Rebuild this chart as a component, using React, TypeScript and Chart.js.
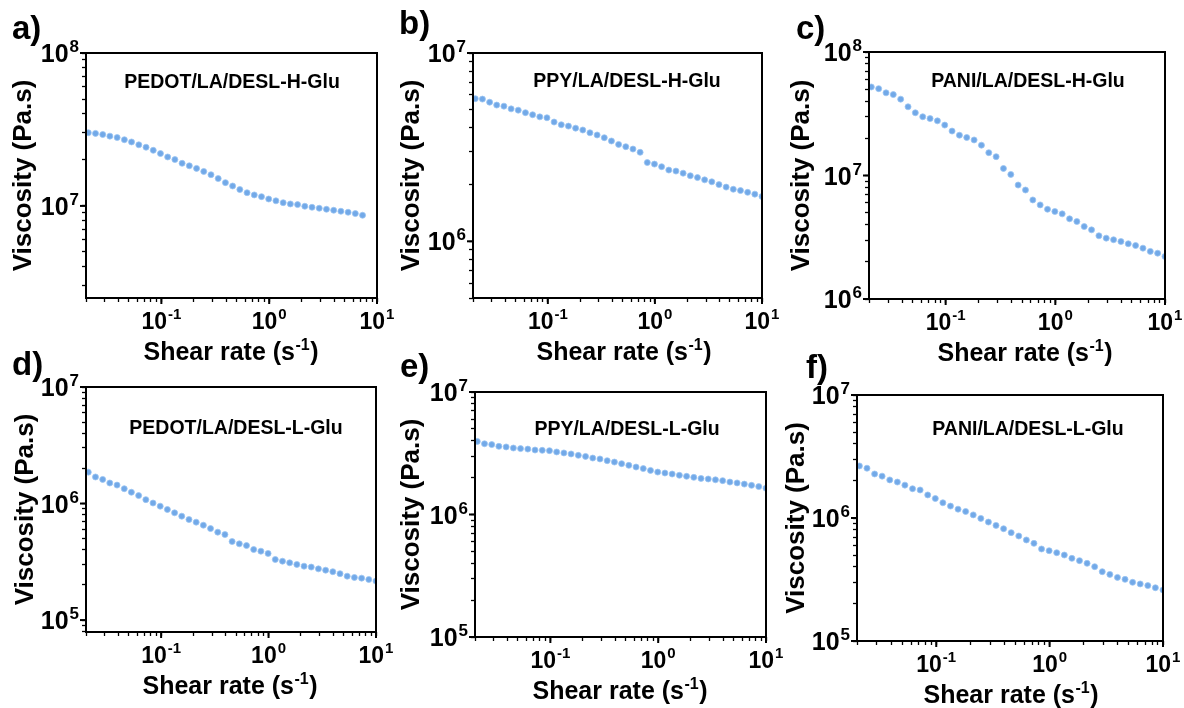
import React, { useEffect, useRef } from 'react';
import { Chart, registerables } from 'chart.js';

Chart.register(...registerables);

// ---------- data ----------
const SHEAR_RATE = [
  0.021, 0.0245, 0.0286, 0.0333, 0.0389, 0.0454, 0.0529, 0.0618, 0.0721, 0.0841,
  0.0981, 0.1144, 0.1335, 0.1557, 0.1817, 0.212, 0.2473, 0.2885, 0.3366, 0.3927,
  0.4581, 0.5344, 0.6235, 0.7274, 0.8486, 0.9901, 1.155, 1.348, 1.572, 1.834,
  2.14, 2.497, 2.912, 3.398, 3.964, 4.625, 5.395, 6.295, 7.344, 8.568, 10.0,
];

const VISC_PEDOT_H = [
  3.01e7, 2.98e7, 2.93e7, 2.86e7, 2.8e7, 2.71e7, 2.62e7, 2.51e7, 2.42e7, 2.31e7,
  2.2e7, 2.09e7, 2.01e7, 1.9e7, 1.83e7, 1.76e7, 1.68e7, 1.6e7, 1.51e7, 1.42e7,
  1.35e7, 1.28e7, 1.22e7, 1.18e7, 1.15e7, 1.11e7, 1.08e7, 1.05e7, 1.03e7, 1.02e7,
  9.95e6, 9.8e6, 9.66e6, 9.51e6, 9.37e6, 9.23e6, 9.09e6, 8.91e6, 8.69e6,
];

const VISC_PPY_H = [
  5.72e6, 5.69e6, 5.48e6, 5.29e6, 5.22e6, 5.05e6, 4.97e6, 4.82e6, 4.7e6, 4.58e6,
  4.53e6, 4.3e6, 4.16e6, 4.09e6, 3.99e6, 3.9e6, 3.77e6, 3.67e6, 3.55e6, 3.41e6,
  3.27e6, 3.18e6, 3.09e6, 2.97e6, 2.62e6, 2.57e6, 2.49e6, 2.39e6, 2.36e6, 2.3e6,
  2.23e6, 2.18e6, 2.12e6, 2.07e6, 2.0e6, 1.94e6, 1.89e6, 1.86e6, 1.82e6, 1.78e6,
  1.73e6,
];

const VISC_PANI_H = [
  5.21e7, 5.05e7, 4.67e7, 4.52e7, 4.15e7, 3.6e7, 3.22e7, 2.99e7, 2.89e7, 2.77e7,
  2.56e7, 2.29e7, 2.12e7, 2.03e7, 1.94e7, 1.76e7, 1.53e7, 1.42e7, 1.14e7, 1.02e7,
  8.37e6, 7.63e6, 6.34e6, 5.78e6, 5.33e6, 5.11e6, 4.89e6, 4.46e6, 4.24e6, 3.86e6,
  3.63e6, 3.25e6, 3.11e6, 3.02e6, 2.92e6, 2.8e6, 2.71e6, 2.58e6, 2.43e6, 2.35e6,
  2.21e6,
];

const VISC_PEDOT_L = [
  1.86e6, 1.69e6, 1.61e6, 1.5e6, 1.44e6, 1.34e6, 1.25e6, 1.17e6, 1.08e6, 1.01e6,
  9.49e5, 8.89e5, 8.32e5, 7.79e5, 7.29e5, 6.92e5, 6.52e5, 6.1e5, 5.68e5, 5.42e5,
  4.72e5, 4.51e5, 4.36e5, 4.03e5, 3.9e5, 3.73e5, 3.31e5, 3.2e5, 3.1e5, 3.0e5,
  2.9e5, 2.85e5, 2.75e5, 2.68e5, 2.6e5, 2.5e5, 2.38e5, 2.32e5, 2.29e5, 2.23e5,
  2.16e5,
];

const VISC_PPY_L = [
  3.95e6, 3.78e6, 3.72e6, 3.6e6, 3.56e6, 3.49e6, 3.45e6, 3.42e6, 3.36e6, 3.34e6,
  3.32e6, 3.24e6, 3.18e6, 3.12e6, 3.04e6, 2.98e6, 2.89e6, 2.84e6, 2.75e6, 2.68e6,
  2.6e6, 2.52e6, 2.44e6, 2.37e6, 2.29e6, 2.22e6, 2.18e6, 2.14e6, 2.09e6, 2.05e6,
  2.01e6, 1.97e6, 1.95e6, 1.92e6, 1.89e6, 1.84e6, 1.81e6, 1.77e6, 1.73e6, 1.69e6,
  1.64e6,
];

const VISC_PANI_L = [
  2.65e6, 2.54e6, 2.28e6, 2.19e6, 2.04e6, 1.96e6, 1.85e6, 1.73e6, 1.69e6, 1.54e6,
  1.44e6, 1.33e6, 1.25e6, 1.18e6, 1.13e6, 1.06e6, 9.93e5, 9.27e5, 8.71e5, 8.18e5,
  7.6e5, 7.14e5, 6.63e5, 6.22e5, 5.6e5, 5.42e5, 5.22e5, 5.0e5, 4.7e5, 4.5e5,
  4.28e5, 4.02e5, 3.66e5, 3.48e5, 3.29e5, 3.17e5, 3.0e5, 2.91e5, 2.82e5, 2.71e5,
  2.6e5,
];

const SERIES = [VISC_PEDOT_H, VISC_PPY_H, VISC_PANI_H, VISC_PEDOT_L, VISC_PPY_L, VISC_PANI_L];
const SAMPLE_LABELS = [
  'PEDOT/LA/DESL-H-Glu',
  'PPY/LA/DESL-H-Glu',
  'PANI/LA/DESL-H-Glu',
  'PEDOT/LA/DESL-L-Glu',
  'PPY/LA/DESL-L-Glu',
  'PANI/LA/DESL-L-Glu',
];
const PANEL_LETTERS = ['a)', 'b)', 'c)', 'd)', 'e)', 'f)'];
const Y_MIN = [2.5e6, 5e5, 1e6, 7.9e4, 1e5, 1e5];
const Y_MAX = [1e8, 1e7, 1e8, 1e7, 1e7, 1e7];
const X_MIN = 0.02;
const X_MAX = 10;
const Y_TICK_EXP = [[7, 8], [6, 7], [6, 7, 8], [5, 6, 7], [5, 6, 7], [5, 6, 7]];
const X_TICK_EXP = [-1, 0, 1];
const X_TITLE_MAIN = 'Shear rate (s';
const X_TITLE_SUP = '-1';
const X_TITLE_END = ')';
const Y_TITLE = 'Viscosity (Pa.s)';

// ---------- layout (pixel positions of each panel) ----------
const LAYOUT = [
  { l: 86, t: 53, r: 377, b: 298, lx: 12, ly: 39, yt: 24, nx: 232, ny: 83, xt: 231 },
  { l: 473, t: 53, r: 762, b: 298, lx: 399, ly: 34, yt: 412, nx: 627, ny: 82, xt: 624 },
  { l: 869, t: 52, r: 1165, b: 299, lx: 796, ly: 39, yt: 802, nx: 1028, ny: 82, xt: 1025 },
  { l: 86, t: 387, r: 376, b: 632, lx: 12, ly: 375, yt: 26, nx: 236, ny: 429, xt: 230 },
  { l: 475, t: 392, r: 766, b: 637, lx: 400, ly: 377, yt: 412, nx: 627, ny: 430, xt: 620 },
  { l: 857, t: 395, r: 1163, b: 641, lx: 806, ly: 378, yt: 797, nx: 1028, ny: 430, xt: 1011 },
];

const W = 1184;
const H = 708;
const AX = 10;
const FONT = "Arial, 'Liberation Sans', Helvetica, sans-serif";

function drawPow(
  ctx: CanvasRenderingContext2D,
  exp: number,
  x: number,
  y: number,
  align: 'right' | 'center',
  baseSize: number,
  supSize: number,
  rise: number
) {
  const sup = exp < 0 ? '-' + Math.abs(exp) : String(exp);
  ctx.font = `bold ${baseSize}px ${FONT}`;
  const wb = ctx.measureText('10').width;
  ctx.font = `bold ${supSize}px ${FONT}`;
  const ws = ctx.measureText(sup).width;
  const total = wb + 1 + ws;
  const x0 = align === 'right' ? x - total : x - total / 2;
  ctx.textAlign = 'left';
  ctx.textBaseline = 'alphabetic';
  ctx.font = `bold ${baseSize}px ${FONT}`;
  ctx.fillText('10', x0, y);
  ctx.font = `bold ${supSize}px ${FONT}`;
  ctx.fillText(sup, x0 + wb + 1, y - rise);
}

function keepIntegerMantissa(scale: any) {
  scale.ticks = scale.ticks.filter((t: any) => {
    const v = t.value;
    const m = v / Math.pow(10, Math.floor(Math.log10(v) + 1e-9));
    return Math.abs(m - Math.round(m)) < 1e-6;
  });
}

function makeDecor(i: number) {
  const L = LAYOUT[i];
  return {
    id: 'decor' + i,
    afterDraw(chart: any) {
      const ctx: CanvasRenderingContext2D = chart.ctx;
      const area = chart.chartArea;
      const xs = chart.scales.x;
      const ys = chart.scales.y;
      ctx.save();
      ctx.fillStyle = '#000';
      ctx.strokeStyle = '#000';
      // frame
      ctx.lineWidth = 2;
      ctx.strokeRect(area.left, area.top, area.right - area.left, area.bottom - area.top);
      // major ticks
      ctx.lineWidth = 2;
      X_TICK_EXP.forEach((e) => {
        const px = xs.getPixelForValue(Math.pow(10, e));
        ctx.beginPath();
        ctx.moveTo(px, area.bottom);
        ctx.lineTo(px, area.bottom + 6);
        ctx.stroke();
      });
      Y_TICK_EXP[i].forEach((e) => {
        const py = ys.getPixelForValue(Math.pow(10, e));
        ctx.beginPath();
        ctx.moveTo(area.left, py);
        ctx.lineTo(area.left - 6, py);
        ctx.stroke();
      });
      // tick labels
      X_TICK_EXP.forEach((e) => {
        const px = xs.getPixelForValue(Math.pow(10, e));
        drawPow(ctx, e, px, area.bottom + 31, 'center', 23, 15, 10);
      });
      Y_TICK_EXP[i].forEach((e) => {
        const py = ys.getPixelForValue(Math.pow(10, e));
        drawPow(ctx, e, area.left - 7, py + 9, 'right', 25, 17, 10);
      });
      // x title
      ctx.font = `bold 25px ${FONT}`;
      const w1 = ctx.measureText(X_TITLE_MAIN).width;
      const w3 = ctx.measureText(X_TITLE_END).width;
      ctx.font = `bold 16px ${FONT}`;
      const w2 = ctx.measureText(X_TITLE_SUP).width;
      const tot = w1 + w2 + w3 + 1;
      const x0 = L.xt - tot / 2;
      const base = area.bottom + 62;
      ctx.textAlign = 'left';
      ctx.textBaseline = 'alphabetic';
      ctx.font = `bold 25px ${FONT}`;
      ctx.fillText(X_TITLE_MAIN, x0, base);
      ctx.font = `bold 16px ${FONT}`;
      ctx.fillText(X_TITLE_SUP, x0 + w1 + 0.5, base - 10);
      ctx.font = `bold 25px ${FONT}`;
      ctx.fillText(X_TITLE_END, x0 + w1 + w2 + 1, base);
      // y title
      ctx.save();
      ctx.translate(L.yt, (area.top + area.bottom) / 2);
      ctx.rotate(-Math.PI / 2);
      ctx.textAlign = 'center';
      ctx.textBaseline = 'middle';
      ctx.font = `bold 26px ${FONT}`;
      ctx.fillText(Y_TITLE, 0, 0);
      ctx.restore();
      // sample note
      ctx.textAlign = 'center';
      ctx.textBaseline = 'middle';
      ctx.font = `bold 19.5px ${FONT}`;
      ctx.fillText(SAMPLE_LABELS[i], L.nx, L.ny);
      // panel letter
      ctx.textAlign = 'left';
      ctx.textBaseline = 'alphabetic';
      ctx.font = `bold 33px ${FONT}`;
      ctx.fillText(PANEL_LETTERS[i], L.lx, L.ly);
      ctx.restore();
    },
  };
}

function Panel({ index }: { index: number }) {
  const ref = useRef<HTMLCanvasElement | null>(null);
  useEffect(() => {
    if (!ref.current) return;
    const L = LAYOUT[index];
    const ys = SERIES[index];
    const pts = ys.map((y, k) => ({ x: SHEAR_RATE[k], y }));
    const tickGrid = {
      display: true,
      drawOnChartArea: false,
      drawTicks: true,
      tickLength: 4,
      tickColor: '#000',
      tickWidth: 1.3,
    };
    const chart = new Chart(ref.current, {
      type: 'scatter',
      data: {
        datasets: [
          {
            data: pts,
            pointRadius: 3,
            pointBackgroundColor: '#72a9e8',
            pointBorderColor: '#9cc5f2',
            pointBorderWidth: 0.8,
            showLine: false,
          },
        ],
      },
      options: {
        responsive: false,
        animation: false,
        events: [],
        layout: {
          padding: { left: L.l - AX, top: L.t, right: W - L.r, bottom: H - L.b - AX },
        },
        plugins: { legend: { display: false }, tooltip: { enabled: false }, title: { display: false } },
        scales: {
          x: {
            type: 'logarithmic',
            min: X_MIN,
            max: X_MAX,
            ticks: { display: false, autoSkip: false },
            grid: tickGrid,
            border: { display: false },
            afterBuildTicks: keepIntegerMantissa,
            afterFit: (s: any) => {
              s.height = AX;
            },
          },
          y: {
            type: 'logarithmic',
            min: Y_MIN[index],
            max: Y_MAX[index],
            ticks: { display: false, autoSkip: false },
            grid: tickGrid,
            border: { display: false },
            afterBuildTicks: keepIntegerMantissa,
            afterFit: (s: any) => {
              s.width = AX;
            },
          },
        },
      } as any,
      plugins: [makeDecor(index)],
    });
    return () => chart.destroy();
  }, [index]);
  return (
    <canvas
      ref={ref}
      width={W}
      height={H}
      style={{ position: 'absolute', left: 0, top: 0, width: W, height: H }}
    />
  );
}

export default function App() {
  return (
    <div style={{ position: 'fixed', left: 0, top: 0, width: W, height: H, background: '#fff', overflow: 'hidden' }}>
      {[0, 1, 2, 3, 4, 5].map((i) => (
        <Panel key={i} index={i} />
      ))}
    </div>
  );
}
